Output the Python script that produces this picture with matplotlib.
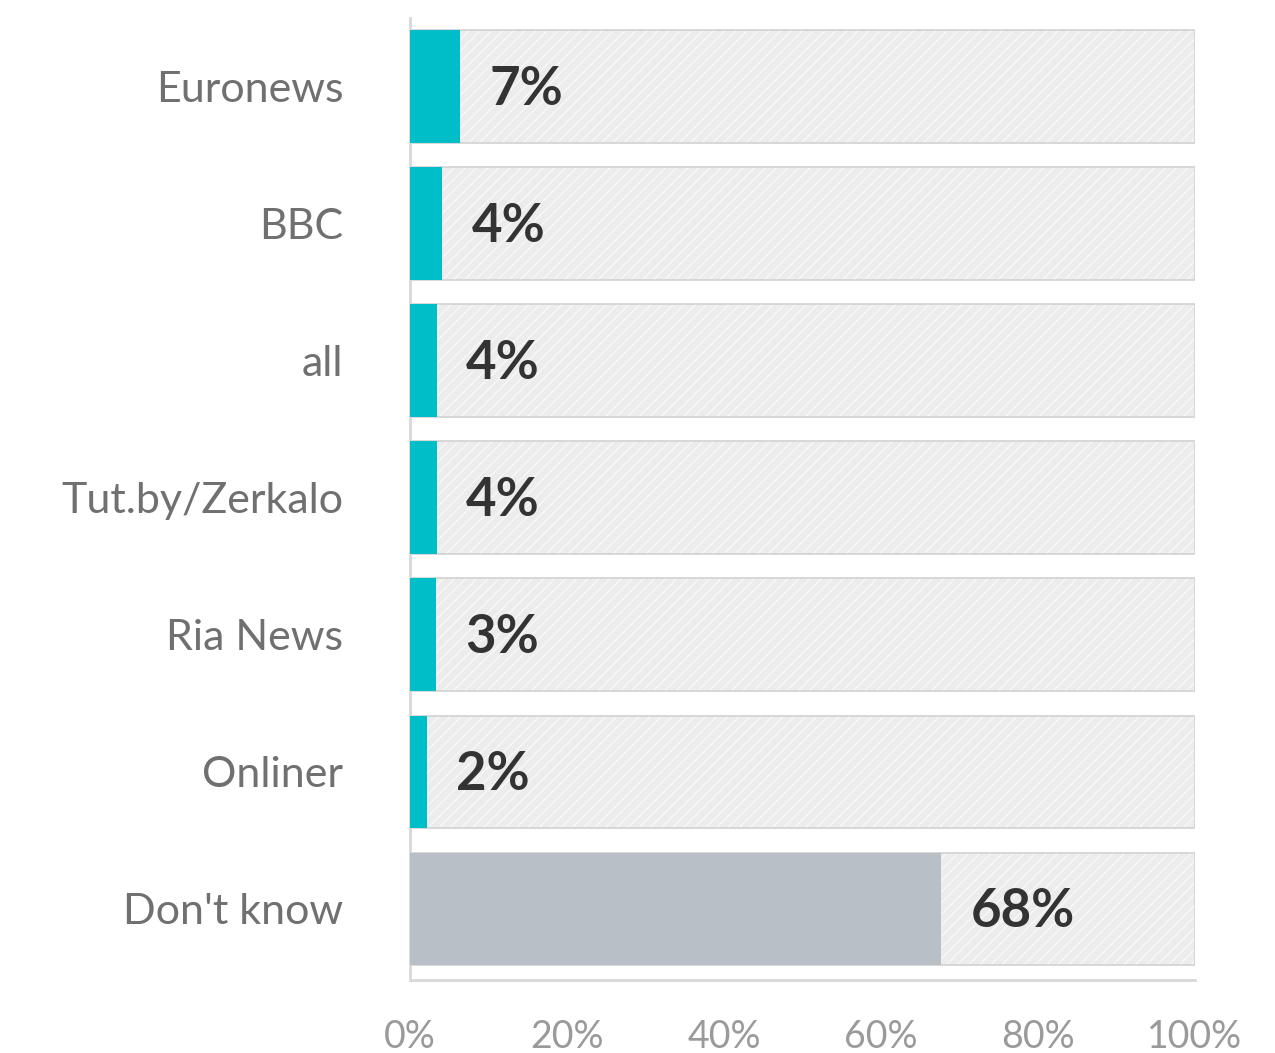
import matplotlib
matplotlib.use("Agg")
import matplotlib.pyplot as plt

categories = ["Euronews", "BBC", "all", "Tut.by/Zerkalo", "Ria News", "Onliner", "Don't know"]
shares = [6.4, 4.1, 3.4, 3.4, 3.3, 2.2, 67.7]
value_labels = ["7%", "4%", "4%", "4%", "3%", "2%", "68%"]
bar_colors = ["#00BEC8"] * 6 + ["#B8BFC6"]
xticks = [0, 20, 40, 60, 80, 100]
xtick_labels = ["0%", "20%", "40%", "60%", "80%", "100%"]

plt.rcParams["font.family"] = ["Lato", "DejaVu Sans"]
plt.rcParams["hatch.linewidth"] = 1.0

fig = plt.figure(figsize=(12.75, 10.53), dpi=100)
ax = fig.add_axes([410 / 1275, 1 - 980 / 1053, (1195 - 410) / 1275, (980 - 18) / 1053])

pos = list(range(len(categories)))
h = 0.82
# background bars
ax.barh(pos, [100] * len(pos), height=h, color="#ECECEC", edgecolor="#F8F8F8",
        hatch="///", linewidth=0, zorder=1)
ax.barh(pos, [100] * len(pos), height=h, fill=False, edgecolor="#D2D2D2",
        linewidth=1.2, zorder=2)
ax.barh(pos, shares, height=h, color=bar_colors, linewidth=0, zorder=3)

for p, v, lab in zip(pos, shares, value_labels):
    ax.annotate(lab, xy=(v, p), xytext=(21, -2), textcoords="offset points",
                va="center", ha="left", fontsize=38, fontweight="bold",
                color="#333333", zorder=4)

ax.set_xlim(0, 100)
ax.set_ylim(6.52, -0.5)
ax.set_yticks(pos)
ax.set_yticklabels(categories, fontsize=31, color="#707070")
ax.set_xticks(xticks)
ax.set_xticklabels(xtick_labels, fontsize=27, color="#9A9A9A")
ax.tick_params(axis="y", length=0, pad=48)
ax.tick_params(axis="x", length=0, pad=28)

for s in ["top", "right"]:
    ax.spines[s].set_visible(False)
for s in ["left", "bottom"]:
    ax.spines[s].set_color("#D8D8D8")
    ax.spines[s].set_linewidth(2)

fig.savefig("out.png", dpi=100, facecolor="white")
